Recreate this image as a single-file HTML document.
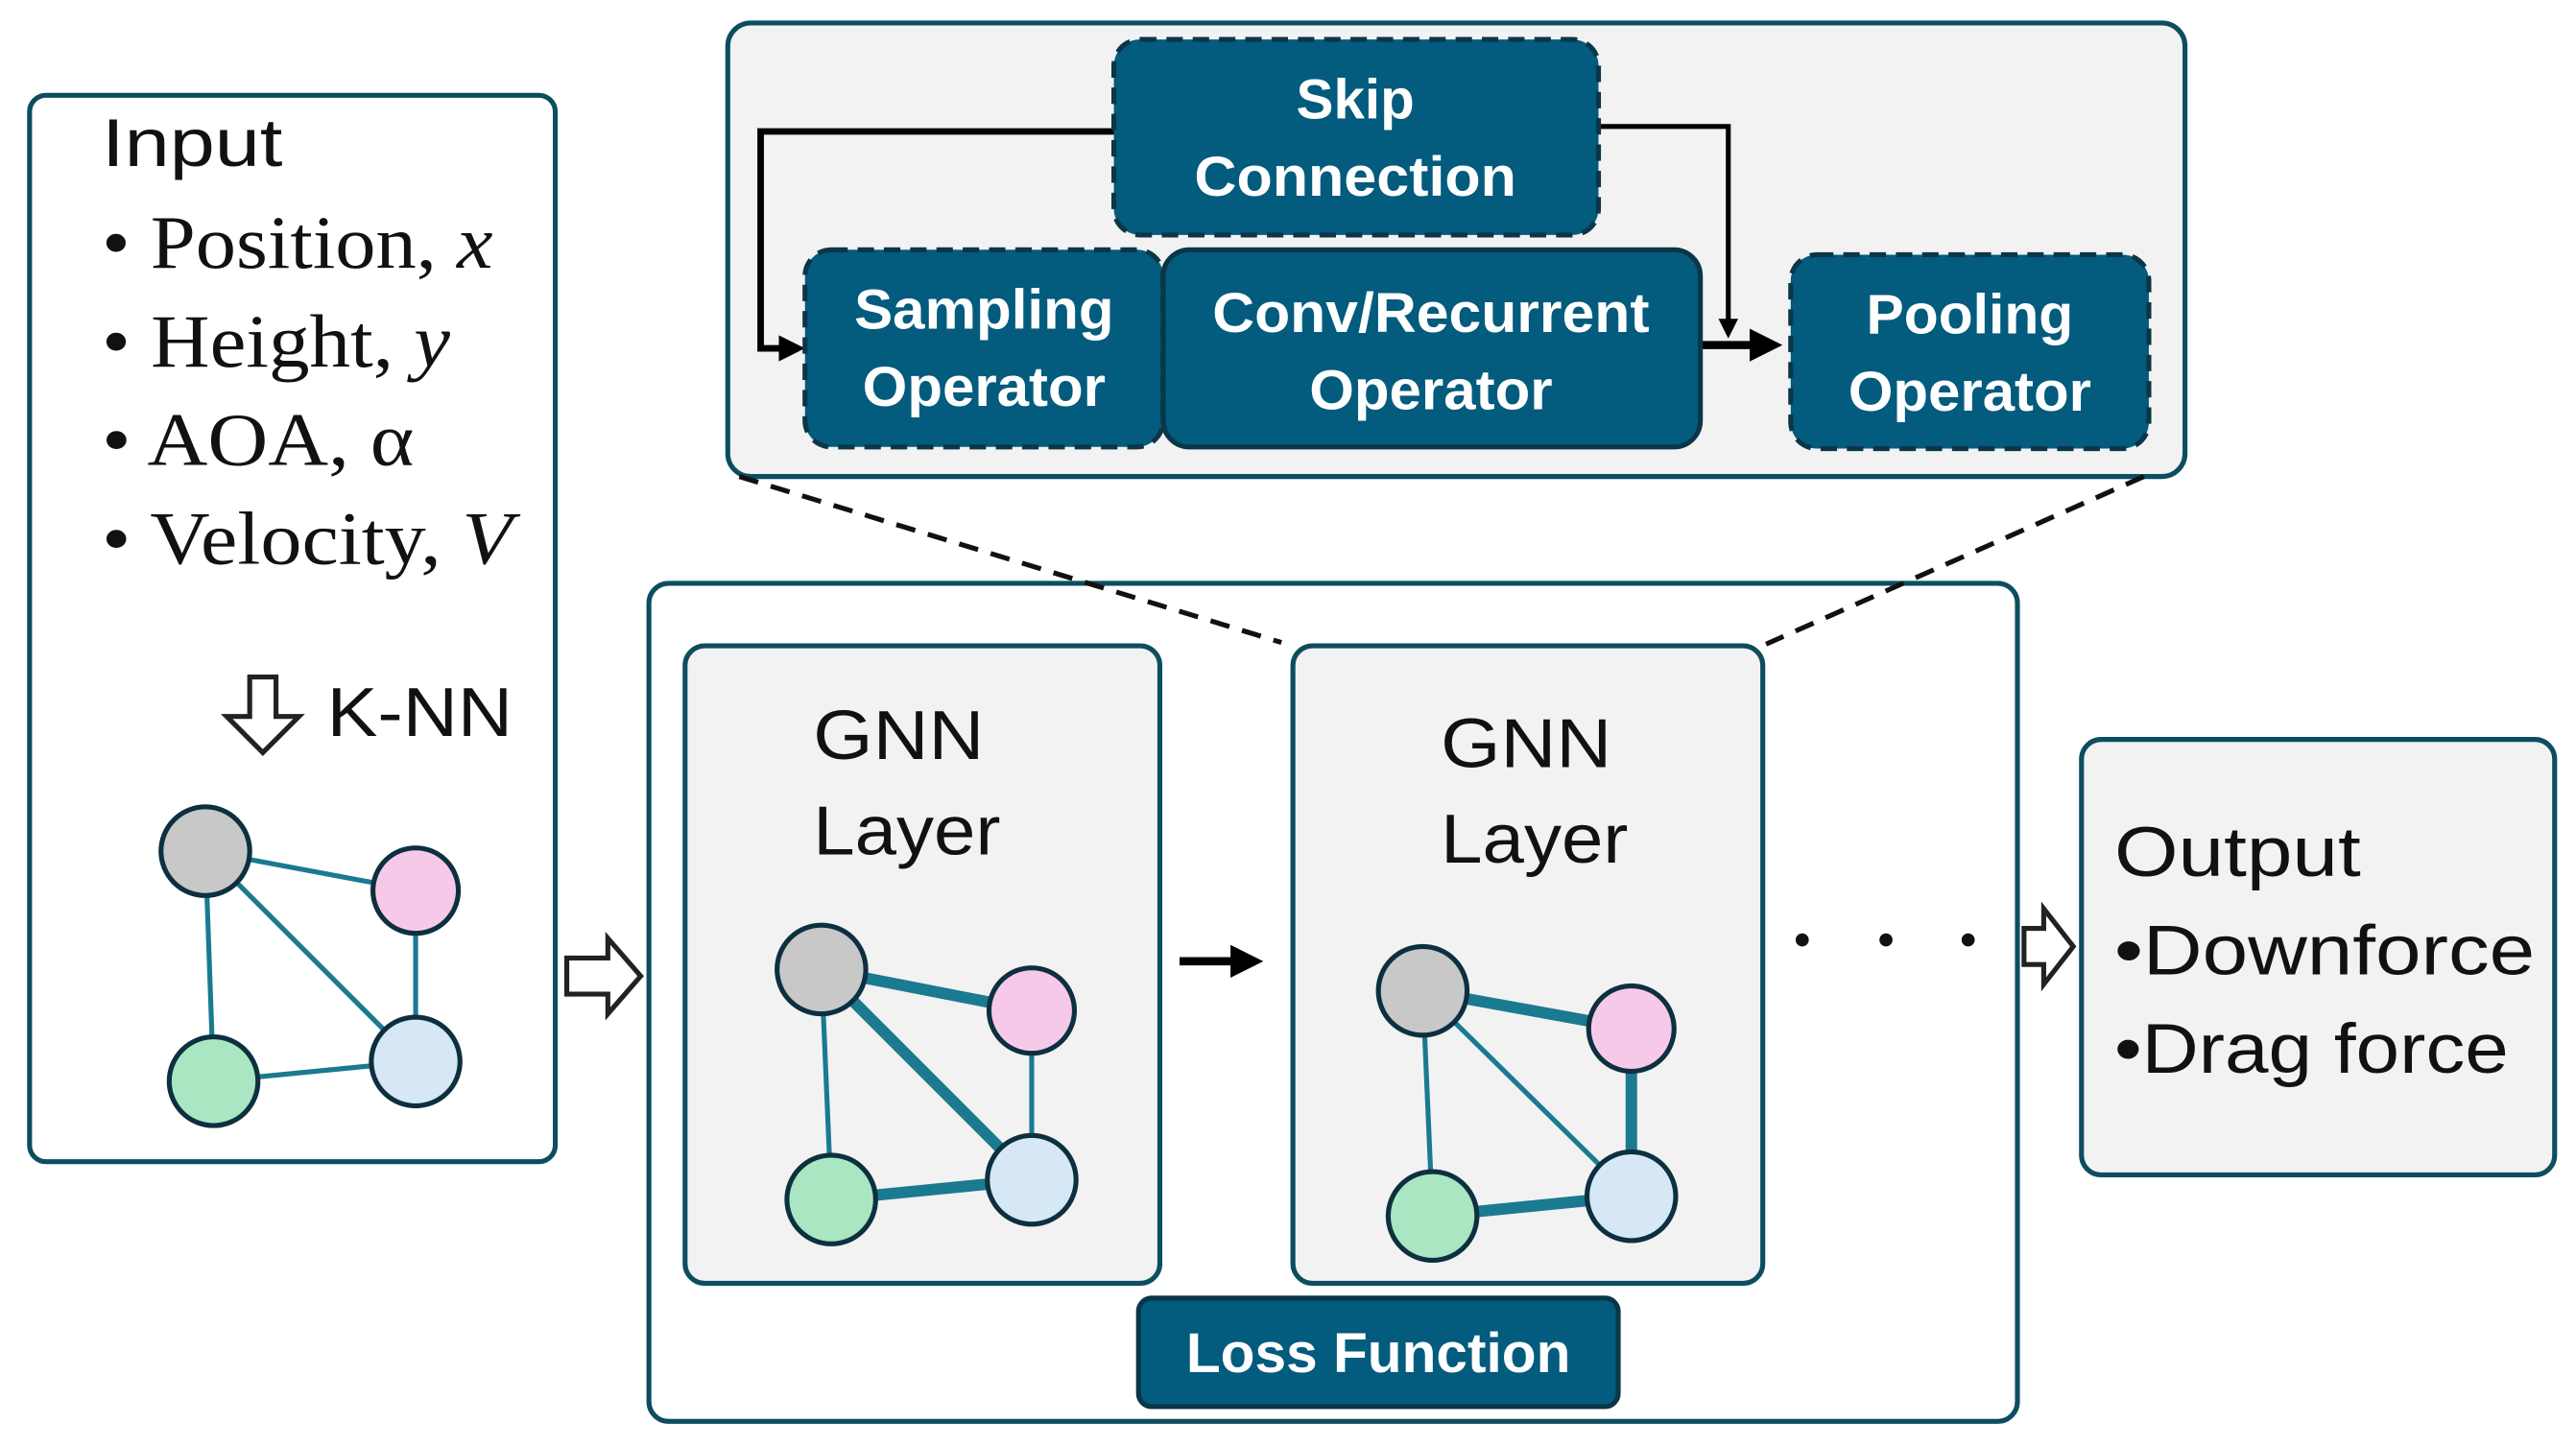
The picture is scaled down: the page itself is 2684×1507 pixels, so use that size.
<!DOCTYPE html>
<html><head><meta charset="utf-8"><style>
html,body{margin:0;padding:0;background:#fff;}
svg{display:block;}
.s{font-family:"Liberation Sans",sans-serif;}
.r{font-family:"Liberation Serif",serif;}
</style></head><body>
<svg width="2684" height="1507" viewBox="0 0 1568 880" preserveAspectRatio="none" xmlns="http://www.w3.org/2000/svg">
<defs>
<marker id="ah" markerWidth="4" markerHeight="4" refX="3" refY="2" orient="auto" markerUnits="strokeWidth"><path d="M0,0 L4,2 L0,4 z" fill="#000"/></marker>
</defs>
<!-- Input box -->
<rect x="18" y="58" width="320" height="649" rx="10" fill="#fff" stroke="#0d4d60" stroke-width="3"/>
<text x="62" y="101" class="s" font-size="41" fill="#111" textLength="110" lengthAdjust="spacingAndGlyphs">Input</text>
<g class="r" font-size="46" fill="#111">
<text x="62" y="163" textLength="238" lengthAdjust="spacingAndGlyphs">• Position, <tspan font-style="italic">x</tspan></text>
<text x="62" y="223" textLength="212" lengthAdjust="spacingAndGlyphs">• Height, <tspan font-style="italic">y</tspan></text>
<text x="62" y="283" textLength="190" lengthAdjust="spacingAndGlyphs">• AOA, α</text>
<text x="62" y="343" textLength="250" lengthAdjust="spacingAndGlyphs">• Velocity, <tspan font-style="italic">V</tspan></text>
</g>
<path d="M152,412 H168 V436 H182 L160,458 L138,436 H152 Z" fill="#fff" stroke="#222" stroke-width="3"/>
<text x="199" y="448" class="s" font-size="42" fill="#111" textLength="113" lengthAdjust="spacingAndGlyphs">K-NN</text>
<g stroke="#1a7a90" stroke-width="3">
<line x1="125" y1="518" x2="253" y2="542"/><line x1="125" y1="518" x2="130" y2="658"/><line x1="125" y1="518" x2="253" y2="646"/><line x1="253" y1="542" x2="253" y2="646"/><line x1="130" y1="658" x2="253" y2="646"/>
</g>
<g stroke="#0d3040" stroke-width="3">
<circle cx="125" cy="518" r="27" fill="#c8c8c8"/><circle cx="253" cy="542" r="26" fill="#f7c9e9"/><circle cx="130" cy="658" r="27" fill="#a9e6c1"/><circle cx="253" cy="646" r="27" fill="#d6e8f5"/>
</g>
<!-- Top panel -->
<rect x="443" y="14" width="887" height="276" rx="14" fill="#f2f2f2" stroke="#0d4d60" stroke-width="3"/>
<polyline points="678,80 463,80 463,212 486,212" fill="none" stroke="#000" stroke-width="4" marker-end="url(#ah)"/>
<polyline points="973,77 1052,77 1052,203" fill="none" stroke="#000" stroke-width="3" marker-end="url(#ah)"/>
<line x1="1035" y1="210" x2="1080" y2="210" stroke="#000" stroke-width="5" marker-end="url(#ah)"/>
<g stroke="#0b3648" stroke-width="3" fill="#035b7d">
<rect x="678" y="24" width="295" height="119" rx="16" stroke-dasharray="10,6"/>
<rect x="490" y="152" width="218" height="120" rx="16" stroke-dasharray="10,6"/>
<rect x="1090" y="155" width="218" height="118" rx="16" stroke-dasharray="10,6"/>
<rect x="708" y="152" width="327" height="120" rx="16"/>
</g>
<g class="s" font-size="34" font-weight="bold" fill="#fff" text-anchor="middle">
<text x="825" y="72" textLength="72" lengthAdjust="spacingAndGlyphs">Skip</text><text x="825" y="119" textLength="196" lengthAdjust="spacingAndGlyphs">Connection</text>
<text x="599" y="200" textLength="158" lengthAdjust="spacingAndGlyphs">Sampling</text><text x="599" y="247" textLength="148" lengthAdjust="spacingAndGlyphs">Operator</text>
<text x="871" y="202" textLength="266" lengthAdjust="spacingAndGlyphs">Conv/Recurrent</text><text x="871" y="249" textLength="148" lengthAdjust="spacingAndGlyphs">Operator</text>
<text x="1199" y="203" textLength="126" lengthAdjust="spacingAndGlyphs">Pooling</text><text x="1199" y="250" textLength="148" lengthAdjust="spacingAndGlyphs">Operator</text>
</g>
<!-- Middle box -->
<rect x="395" y="355" width="833" height="510" rx="12" fill="#fff" stroke="#0d4d60" stroke-width="3"/>
<!-- dashed -->
<line x1="450" y1="290" x2="780" y2="391" stroke="#111" stroke-width="3" stroke-dasharray="12,8"/>
<line x1="1305" y1="290" x2="1075" y2="392" stroke="#111" stroke-width="3" stroke-dasharray="12,8"/>
<rect x="417" y="393" width="289" height="388" rx="12" fill="#f2f2f2" stroke="#0d4d60" stroke-width="3"/>
<rect x="787" y="393" width="286" height="388" rx="12" fill="#f2f2f2" stroke="#0d4d60" stroke-width="3"/>
<g class="s" font-size="42" fill="#111">
<text x="495" y="462" textLength="104" lengthAdjust="spacingAndGlyphs">GNN</text><text x="495" y="520" textLength="114" lengthAdjust="spacingAndGlyphs">Layer</text>
<text x="877" y="467" textLength="104" lengthAdjust="spacingAndGlyphs">GNN</text><text x="877" y="525" textLength="114" lengthAdjust="spacingAndGlyphs">Layer</text>
</g>
<g stroke="#1a7a90">
<line x1="500" y1="590" x2="628" y2="615" stroke-width="7"/><line x1="500" y1="590" x2="628" y2="718" stroke-width="7"/><line x1="500" y1="590" x2="506" y2="730" stroke-width="3"/><line x1="628" y1="615" x2="628" y2="718" stroke-width="3"/><line x1="506" y1="730" x2="628" y2="718" stroke-width="7"/>
<line x1="866" y1="603" x2="993" y2="626" stroke-width="7"/><line x1="866" y1="603" x2="993" y2="728" stroke-width="3"/><line x1="866" y1="603" x2="872" y2="740" stroke-width="3"/><line x1="993" y1="626" x2="993" y2="728" stroke-width="7"/><line x1="872" y1="740" x2="993" y2="728" stroke-width="7"/>
</g>
<g stroke="#0d3040" stroke-width="3">
<circle cx="500" cy="590" r="27" fill="#c8c8c8"/><circle cx="628" cy="615" r="26" fill="#f7c9e9"/><circle cx="506" cy="730" r="27" fill="#a9e6c1"/><circle cx="628" cy="718" r="27" fill="#d6e8f5"/>
<circle cx="866" cy="603" r="27" fill="#c8c8c8"/><circle cx="993" cy="626" r="26" fill="#f7c9e9"/><circle cx="872" cy="740" r="27" fill="#a9e6c1"/><circle cx="993" cy="728" r="27" fill="#d6e8f5"/>
</g>
<line x1="718" y1="585" x2="764" y2="585" stroke="#000" stroke-width="5" marker-end="url(#ah)"/>
<rect x="693" y="790" width="292" height="66" rx="8" fill="#035b7d" stroke="#0b3648" stroke-width="3"/>
<text x="839" y="835" class="s" font-size="34" font-weight="bold" fill="#fff" text-anchor="middle" textLength="234" lengthAdjust="spacingAndGlyphs">Loss Function</text>
<!-- hollow arrows -->
<path d="M345,583 H370 V571 L390,594 L370,617 V605 H345 Z" fill="#fff" stroke="#222" stroke-width="3"/>
<path d="M1232,565 H1244 V553 L1262,576 L1244,599 V587 H1232 Z" fill="#fff" stroke="#222" stroke-width="3"/>
<g fill="#111"><circle cx="1097" cy="572" r="4"/><circle cx="1148" cy="572" r="4"/><circle cx="1198" cy="572" r="4"/></g>
<!-- Output -->
<rect x="1267" y="450" width="288" height="265" rx="12" fill="#f2f2f2" stroke="#0d4d60" stroke-width="3"/>
<g class="s" font-size="43" fill="#111">
<text x="1287" y="533" textLength="150" lengthAdjust="spacingAndGlyphs">Output</text><text x="1287" y="593" textLength="256" lengthAdjust="spacingAndGlyphs">•Downforce</text><text x="1287" y="653" textLength="240" lengthAdjust="spacingAndGlyphs">•Drag force</text>
</g>
</svg>
</body></html>
